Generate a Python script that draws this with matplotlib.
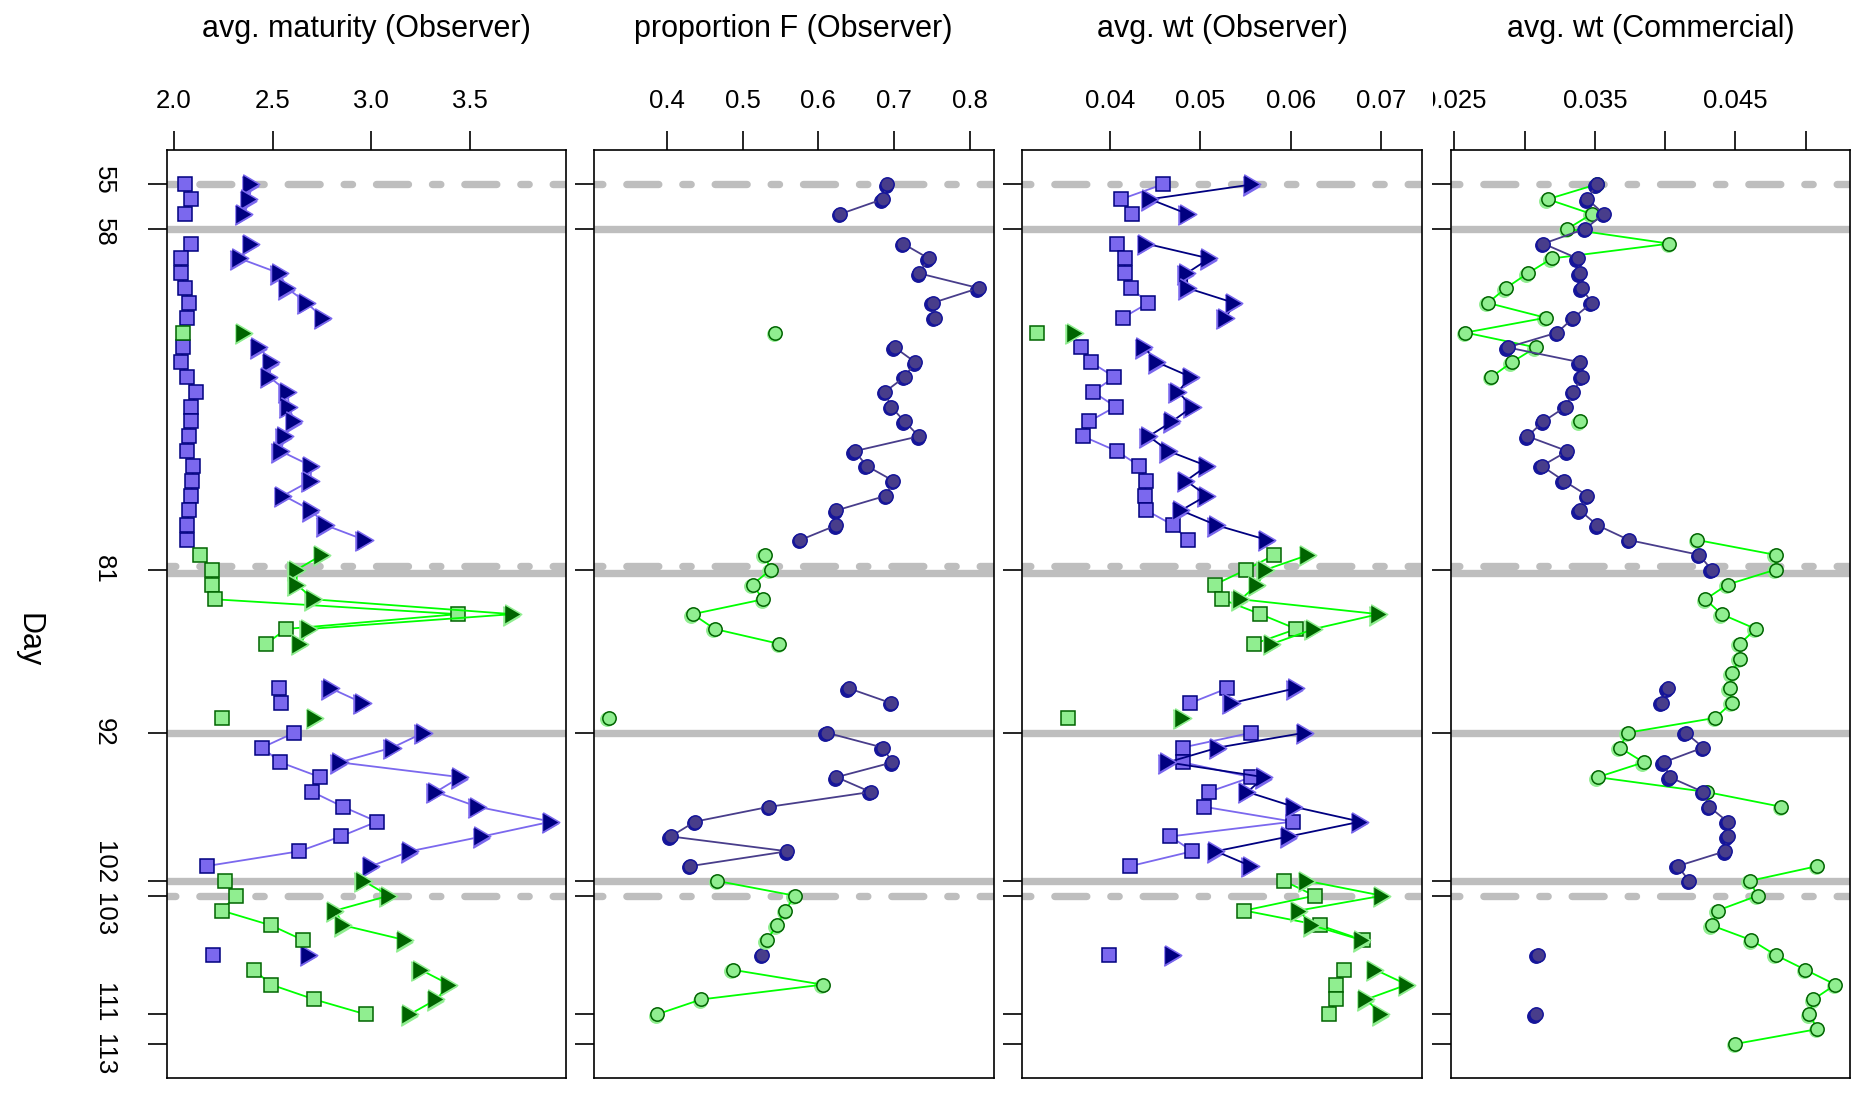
import numpy as np
import matplotlib
matplotlib.use("Agg")
import matplotlib.pyplot as plt
from matplotlib import transforms as mtrans

plt.rcParams["font.family"] = ["Liberation Sans", "DejaVu Sans"]
plt.rcParams["lines.scale_dashes"] = False

ALL_DAYS = np.arange(55, 114)

# sampling days, observer panels (blue / green fleets)
DAYS_BLUE = [55, 56, 57, 59, 60, 61, 62, 63, 64, 66, 67, 68, 69, 70, 71, 72, 73, 74,
             75, 76, 77, 78, 79, 89, 90, 92, 93, 94, 95, 96, 97, 98, 99, 100, 101, 107]
DAYS_GREEN = [65, 80, 81, 82, 83, 84, 85, 86, 91, 102, 103, 104, 105, 106, 108, 109, 110, 111]
# sampling days, commercial panel
DAYS_BLUE_COM = list(range(55, 82)) + [89, 90] + list(range(92, 103)) + [107, 111]
DAYS_GREEN_COM = list(range(55, 69)) + [71] + list(range(79, 98)) + list(range(101, 114))

# avg. maturity (Observer)
mat_sq_blue = [2.057, 2.088, 2.057, 2.088, 2.037, 2.037, 2.057, 2.076, 2.067, 2.047, 2.037, 2.067,
               2.112, 2.088, 2.088, 2.076, 2.067, 2.098, 2.092, 2.088, 2.076, 2.067, 2.067,
               2.533, 2.543, 2.61, 2.447, 2.539, 2.741, 2.702, 2.857, 3.029, 2.845, 2.635, 2.165, 2.2]
mat_tri_blue = [2.392, 2.382, 2.357, 2.392, 2.333, 2.535, 2.573, 2.673, 2.755, 2.433, 2.492, 2.484,
                2.576, 2.582, 2.61, 2.561, 2.541, 2.696, 2.692, 2.555, 2.696, 2.769, 2.967,
                2.794, 2.957, 3.265, 3.108, 2.839, 3.451, 3.327, 3.539, 3.912, 3.563, 3.196, 3.0, 2.686]
mat_sq_green = [2.047, 2.133, 2.192, 2.192, 2.21, 3.439, 2.569, 2.467, 2.241,
                2.257, 2.314, 2.241, 2.492, 2.655, 2.406, 2.492, 2.712, 2.971]
mat_tri_green = [2.357, 2.751, 2.622, 2.622, 2.708, 3.716, 2.682, 2.641, 2.716,
                 2.961, 3.088, 2.818, 2.859, 3.173, 3.251, 3.396, 3.329, 3.196]

# proportion F (Observer)
propf_blue = [0.691, 0.685, 0.629, 0.712, 0.746, 0.733, 0.812, 0.751, 0.754, 0.701, 0.728, 0.714,
              0.688, 0.696, 0.714, 0.733, 0.648, 0.664, 0.699, 0.69, 0.624, 0.624, 0.576,
              0.64, 0.696, 0.611, 0.685, 0.698, 0.624, 0.669, 0.535, 0.437, 0.405, 0.559, 0.431, 0.526]
propf_green = [0.543, 0.529, 0.537, 0.513, 0.527, 0.434, 0.463, 0.548, 0.323,
               0.466, 0.569, 0.556, 0.545, 0.532, 0.487, 0.606, 0.445, 0.387]

# avg. wt (Observer)
wt_sq_blue = [0.04585, 0.04125, 0.04243, 0.04077, 0.04165, 0.04165, 0.04232, 0.04426, 0.04143,
              0.0368, 0.0379, 0.04051, 0.03813, 0.04063, 0.03768, 0.03702, 0.04077, 0.04327,
              0.04404, 0.04386, 0.04404, 0.04702, 0.0486, 0.05301, 0.0489, 0.05566, 0.04805,
              0.04805, 0.05566, 0.05092, 0.05044, 0.06026, 0.04669, 0.04912, 0.04228, 0.03989]
wt_tri_blue = [0.05577, 0.04445, 0.0486, 0.04401, 0.051, 0.04849, 0.0486, 0.05375, 0.05283,
               0.04382, 0.04522, 0.04897, 0.0475, 0.04915, 0.04688, 0.0443, 0.04651, 0.05074,
               0.04842, 0.0507, 0.04787, 0.0518, 0.05743, 0.06055, 0.05349, 0.06158, 0.05199,
               0.0464, 0.05706, 0.05522, 0.06037, 0.06772, 0.05982, 0.05173, 0.05559, 0.04702]
wt_sq_green = [0.03195, 0.0582, 0.05507, 0.05162, 0.05243, 0.05665, 0.06063, 0.05599, 0.03537,
               0.05926, 0.06265, 0.05489, 0.06324, 0.06801, 0.06592, 0.06504, 0.06504, 0.06423]
wt_tri_green = [0.0361, 0.06195, 0.05724, 0.05632, 0.05449, 0.06974, 0.06257, 0.05798, 0.04805,
                0.06184, 0.07011, 0.06092, 0.06239, 0.0679, 0.06938, 0.07287, 0.06835, 0.07004]

# avg. wt (Commercial)
com_blue = [0.03513, 0.03447, 0.03565, 0.0343, 0.03134, 0.03378, 0.03393, 0.03407, 0.03478,
            0.03348, 0.03232, 0.02879, 0.03393, 0.03407, 0.03348, 0.03293, 0.03134, 0.03021,
            0.03305, 0.03123, 0.03279, 0.03447, 0.03393, 0.03518, 0.03743, 0.04242, 0.0433,
            0.04018, 0.03975, 0.04145, 0.04271, 0.03989, 0.04032, 0.04271, 0.04313, 0.04444,
            0.04444, 0.04427, 0.04089, 0.04171, 0.03094, 0.03078]
com_green = [0.03513, 0.03165, 0.03478, 0.03305, 0.04029, 0.03194, 0.03023, 0.02867, 0.02739,
             0.03151, 0.0258, 0.0308, 0.0291, 0.02763, 0.03393,
             0.0423, 0.04785, 0.04785, 0.04444, 0.04287, 0.04401, 0.04645, 0.04531, 0.04531,
             0.04472, 0.04458, 0.04472, 0.04356, 0.03733, 0.03677, 0.03847, 0.0352, 0.04295, 0.04827,
             0.05083, 0.04602, 0.04657, 0.04373, 0.0433, 0.04614, 0.04785, 0.04998, 0.05211,
             0.05054, 0.05026, 0.05083, 0.045]

SOLID_DAYS = [58, 81.25, 92, 102]
DASHED_DAYS = [55, 80.75, 103]
YTICKS = [55, 58, 81, 92, 102, 103, 111, 113]

TITLES = ["avg. maturity (Observer)", "proportion F (Observer)",
          "avg. wt (Observer)", "avg. wt (Commercial)"]
XTICKS = [[2.0, 2.5, 3.0, 3.5], [0.4, 0.5, 0.6, 0.7, 0.8],
          [0.04, 0.05, 0.06, 0.07], [0.025, 0.030, 0.035, 0.040, 0.045, 0.050]]
XLABELS = [["2.0", "2.5", "3.0", "3.5"], ["0.4", "0.5", "0.6", "0.7", "0.8"],
           ["0.04", "0.05", "0.06", "0.07"], ["0.025", "", "0.035", "", "0.045", ""]]

TRI = [(-0.85, -1), (0.85, 0), (-0.85, 1)]
SLATE, NAVY, DSLATE = "#7B68EE", "#000080", "#483D8B"
LGREEN, DGREEN, LIME = "#90EE90", "#006400", "#00FF00"


def on_grid(days, vals):
    x = np.full(ALL_DAYS.size, np.nan)
    x[np.asarray(days) - ALL_DAYS[0]] = vals
    return x


def series(ax, days, vals, marker, ms, face, edge, line, shadow=None, z=3):
    x = on_grid(days, vals)
    if shadow:
        tr = mtrans.offset_copy(ax.transData, fig=ax.figure, x=-1.4, y=-1.4, units="dots")
        ax.plot(x, ALL_DAYS, ls="none", marker=marker, ms=ms, mfc=shadow, mec=shadow,
                mew=1.1, transform=tr, zorder=z)
    ax.plot(x, ALL_DAYS, color=line, lw=1.3, marker=marker, ms=ms, mfc=face, mec=edge,
            mew=1.1, zorder=z)


def spread_labels(ticks, span=3.5):
    # push apart neighbouring labels that would overlap (text length ~ span days)
    pos = [float(t) for t in ticks]
    for j in range(len(pos) - 1):
        if pos[j + 1] - pos[j] < span:
            mid = (pos[j] + pos[j + 1]) / 2
            pos[j], pos[j + 1] = mid - span / 2, mid + span / 2
    return pos


W, H = 1859, 1096
fig = plt.figure(figsize=(W / 100, H / 100), dpi=100)
lefts = [166.5, 594, 1022.3, 1450.7]
top_px, bot_px, wid_px = 150, 1078.3, 399.5
axes = [fig.add_axes([l / W, 1 - bot_px / H, wid_px / W, (bot_px - top_px) / H]) for l in lefts]

panels = [
    [(DAYS_BLUE, mat_sq_blue, "s", 9.6, SLATE, NAVY, SLATE, None),
     (DAYS_BLUE, mat_tri_blue, TRI, 14, NAVY, SLATE, SLATE, SLATE),
     (DAYS_GREEN, mat_sq_green, "s", 9.6, LGREEN, DGREEN, LIME, None),
     (DAYS_GREEN, mat_tri_green, TRI, 14, DGREEN, LGREEN, LIME, LGREEN)],
    [(DAYS_BLUE, propf_blue, "o", 9.6, DSLATE, "#15159A", DSLATE, "#15159A"),
     (DAYS_GREEN, propf_green, "o", 9.6, LGREEN, DGREEN, LIME, LGREEN)],
    [(DAYS_BLUE, wt_sq_blue, "s", 9.6, SLATE, NAVY, SLATE, None),
     (DAYS_BLUE, wt_tri_blue, TRI, 14, NAVY, SLATE, NAVY, SLATE),
     (DAYS_GREEN, wt_sq_green, "s", 9.6, LGREEN, DGREEN, LIME, None),
     (DAYS_GREEN, wt_tri_green, TRI, 14, DGREEN, LGREEN, LIME, LGREEN)],
    [(DAYS_GREEN_COM, com_green, "o", 9.6, LGREEN, DGREEN, LIME, LGREEN),
     (DAYS_BLUE_COM, com_blue, "o", 9.6, DSLATE, "#15159A", DSLATE, "#15159A")],
]

ypad = 0.04 * (ALL_DAYS.max() - ALL_DAYS.min())
dash = (40.3, (23, 17.3, 6, 17.3))

for i, (ax, spec) in enumerate(zip(axes, panels)):
    allv = np.concatenate([np.asarray(s[1], float) for s in spec])
    lo, hi = allv.min(), allv.max()
    pad = 0.04 * (hi - lo)
    ax.set_xlim(lo - pad, hi + pad)
    ax.set_ylim(ALL_DAYS.max() + ypad, ALL_DAYS.min() - ypad)

    for d in SOLID_DAYS:
        ax.axhline(d, color="#BEBEBE", lw=5.3, solid_capstyle="butt", zorder=1)
    for d in DASHED_DAYS:
        ax.axhline(d, color="#BEBEBE", lw=5.3, ls=dash, dash_capstyle="round", zorder=1)

    for k, (days, vals, mk, ms, fc, ec, lc, sh) in enumerate(spec):
        series(ax, days, vals, mk, ms, fc, ec, lc, shadow=sh, z=3 + k)

    for s in ax.spines.values():
        s.set_linewidth(1.2)
    ax.set_xticks(XTICKS[i])
    ax.set_yticks(YTICKS)
    ax.tick_params(axis="x", which="both", top=True, bottom=False, labeltop=False,
                   labelbottom=False, direction="out", length=13.7, width=1.2)
    ax.tick_params(axis="y", left=True, right=False, labelleft=False, direction="out",
                   length=13.7, width=1.2)

    # x tick labels on top (drawn by hand so that panel 4's first label can be clipped)
    tr = mtrans.blended_transform_factory(ax.transData, ax.transAxes)
    for v, lab in zip(XTICKS[i], XLABELS[i]):
        t = fig.text(v, 1.0455, lab, transform=tr, ha="center", va="baseline", fontsize=18.5)
        if i == 3:
            t.set_clip_box(mtrans.TransformedBbox(
                mtrans.Bbox([[1433 / W, 0], [1, 1]]), fig.transFigure))
            t.set_clip_on(True)

    cx = (lefts[i] + wid_px / 2) / W
    fig.text(cx, 1 - 37.5 / H, TITLES[i], ha="center", va="baseline", fontsize=22)

# y tick labels on first panel only
ax0 = axes[0]
tr0 = mtrans.blended_transform_factory(ax0.transAxes, ax0.transData)
for d, p in zip(YTICKS, spread_labels(YTICKS)):
    fig.text((104 - lefts[0]) / wid_px, p, str(d), transform=tr0, rotation=270,
             ha="center", va="center", fontsize=18.5)

fig.text(28 / W, 1 - 640 / H, "Day", rotation=270, ha="center", va="center", fontsize=22)

fig.savefig("out.png", dpi=100)
